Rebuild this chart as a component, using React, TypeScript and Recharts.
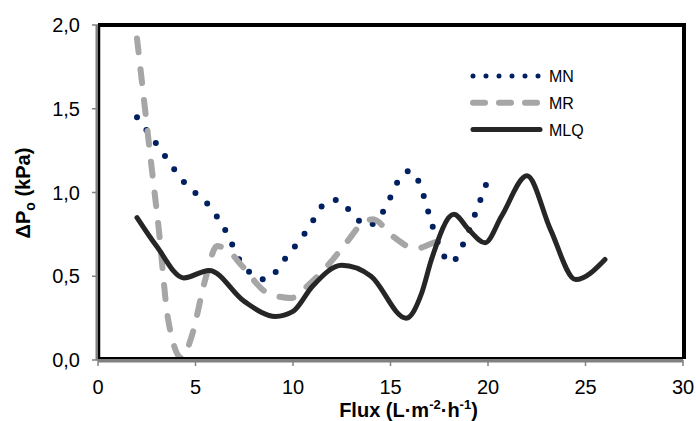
import { LineChart, Line, XAxis, YAxis } from "recharts"

const xTicks = [0, 5, 10, 15, 20, 25, 30]
const yTicks = [0, 0.5, 1, 1.5, 2]

// MN series (dotted navy)
const mnFlux = [2, 3, 4.5, 5.7, 6.6, 7.3, 8.6, 9.7, 10.75, 11.7, 12.3, 13, 13.8, 14.7, 15.4, 16, 16.5, 17, 17.5, 18.1, 18.8, 19.4, 20]
const mnDp = [1.45, 1.29, 1.05, 0.92, 0.76, 0.59, 0.48, 0.62, 0.78, 0.94, 0.955, 0.88, 0.8, 0.9, 1.07, 1.13, 1.05, 0.86, 0.68, 0.58, 0.71, 0.89, 1.08]

// MR series (dashed gray)
const mrFlux = [2, 2.4, 2.75, 3.1, 3.6, 4.3, 4.8, 5.5, 6.1, 6.6, 7.4, 8.7, 9.9, 10.9, 11.9, 12.8, 13.5, 14.1, 15.1, 16.3, 17.2, 18]
const mrDp = [1.92, 1.51, 1.15, 0.8, 0.24, 0.01, 0.14, 0.48, 0.68, 0.66, 0.56, 0.4, 0.37, 0.46, 0.58, 0.71, 0.81, 0.84, 0.74, 0.665, 0.7, 0.73]

// MLQ series (solid)
const mlqFlux = [2, 3, 4.4, 5.7, 7.5, 9.1, 10, 11, 12.5, 14, 15.8, 16.6, 17.1, 18.25, 19, 19.85, 20.7, 22, 23.2, 24.5, 26]
const mlqDp = [0.85, 0.68, 0.49, 0.535, 0.35, 0.26, 0.29, 0.44, 0.565, 0.5, 0.25, 0.4, 0.6, 0.87, 0.78, 0.7, 0.86, 1.1, 0.78, 0.48, 0.6]

const toPoints = (xs: number[], ys: number[]) => xs.map((x, i) => ({ x, y: ys[i] }))

const mnData = toPoints(mnFlux, mnDp)
const mrData = toPoints(mrFlux, mrDp)
const mlqData = toPoints(mlqFlux, mlqDp)

const font = "Arial, 'Liberation Sans', sans-serif"

const legendItems = [
  { name: "MN", color: "#002060", width: 5, dash: "0 13" },
  { name: "MR", color: "#A6A6A6", width: 6, dash: "12 14" },
  { name: "MLQ", color: "#262626", width: 5, dash: undefined },
]

// drawn over the chart so it takes no room from the plot
function ChartLegend() {
  return (
    <svg width={130} height={80} style={{ position: "absolute", left: 468, top: 64 }}>
      {legendItems.map((it, i) => {
        const y = 12 + i * 26.8
        return (
          <g key={it.name}>
            <line x1={5} x2={72} y1={y} y2={y} stroke={it.color} strokeWidth={it.width}
              strokeDasharray={it.dash} strokeLinecap="round" />
            <text x={81} y={y + 6} fontSize={16} fontFamily={font} fill="#000">{it.name}</text>
          </g>
        )
      })}
    </svg>
  )
}

function XTitle(props: any) {
  const vb = props.viewBox
  const cx = vb.x + vb.width / 2 + 18
  return (
    <text x={cx} y={417} textAnchor="middle" fontSize={20} fontWeight="bold" fontFamily={font} fill="#000">
      Flux (L·m<tspan fontSize={13} dy={-8}>-2</tspan><tspan dy={8}>·h</tspan>
      <tspan fontSize={13} dy={-8}>-1</tspan><tspan dy={8}>)</tspan>
    </text>
  )
}

function YTitle() {
  return (
    <text x={0} y={0} transform="translate(30,193) rotate(-90)" textAnchor="middle" fontSize={20}
      fontWeight="bold" fontFamily={font} fill="#000">
      ΔP<tspan fontSize={14} dy={5}>o</tspan><tspan dy={-5}> (kPa)</tspan>
    </text>
  )
}

// plot frame, black border around the plot area
const frameStyle = {
  position: "absolute" as const, left: 98, top: 23, width: 588, height: 336, boxSizing: "border-box" as const,
  borderTop: "4px solid #000", borderRight: "4px solid #000", borderLeft: "2px solid #000",
  borderBottom: "2px solid #000", pointerEvents: "none" as const,
}

export default function App() {
  return (
    <div style={{ position: "absolute", left: 0, top: 0, width: 696, height: 421, background: "#fff" }}>
      <LineChart width={696} height={421} margin={{ top: 25, right: 13, bottom: 0, left: 0 }}>
        <XAxis type="number" dataKey="x" domain={[0, 30]} ticks={xTicks} height={61}
          axisLine={{ stroke: "#808080", strokeWidth: 5 }} tickLine={{ stroke: "#808080", strokeWidth: 1.5 }}
          tickSize={6} tickMargin={14} tick={{ fontSize: 20, fontFamily: font, fill: "#000" }}
          allowDuplicatedCategory={false} label={<XTitle />} />
        <YAxis type="number" domain={[0, 2]} ticks={yTicks} width={98}
          axisLine={{ stroke: "#808080", strokeWidth: 5 }} tickLine={{ stroke: "#808080", strokeWidth: 1.5 }}
          tickSize={6} tickMargin={12} tick={{ fontSize: 20, fontFamily: font, fill: "#000" }}
          tickFormatter={(v: number) => v.toFixed(1).replace(".", ",")} label={<YTitle />} />
        <Line data={mnData} dataKey="y" name="MN" type="monotone" stroke="#002060" strokeWidth={6}
          strokeDasharray="0 16" strokeLinecap="round" dot={false} isAnimationActive={false} />
        <Line data={mrData} dataKey="y" name="MR" type="monotone" stroke="#A6A6A6" strokeWidth={6}
          strokeDasharray="14 17" strokeLinecap="round" dot={false} isAnimationActive={false} />
        <Line data={mlqData} dataKey="y" name="MLQ" type="monotone" stroke="#262626" strokeWidth={5}
          strokeLinecap="round" dot={false} isAnimationActive={false} />
      </LineChart>
      <div style={frameStyle} />
      <ChartLegend />
    </div>
  )
}
